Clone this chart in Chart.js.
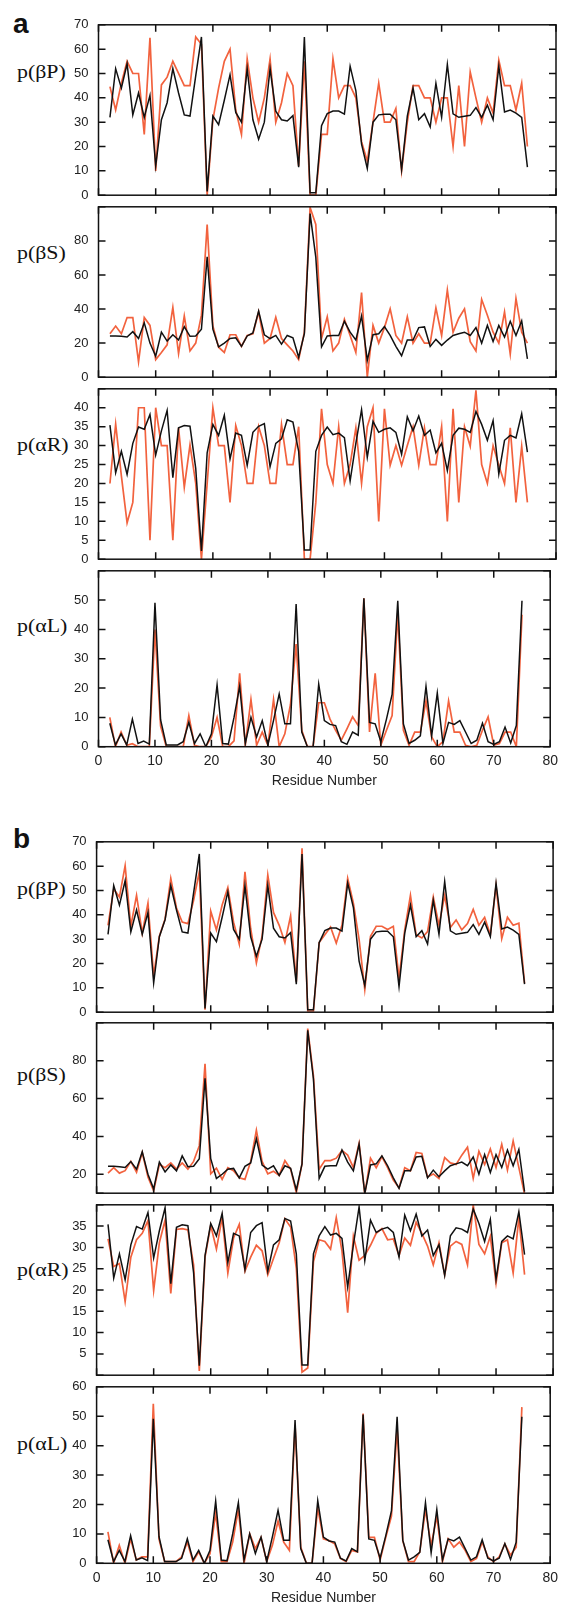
<!DOCTYPE html>
<html>
<head>
<meta charset="utf-8">
<script src="https://cdn.jsdelivr.net/npm/chart.js@4.4.1/dist/chart.umd.min.js"></script>
<style>
  html, body { margin: 0; padding: 0; background: #fff; overflow: hidden; }
  #page { position: relative; width: 564px; height: 1604px; }
  canvas { position: absolute; left: 0; }
  .tag { position: absolute; left: 13px; font: bold 28px "Liberation Sans", Arial, sans-serif; line-height: 28px; color: #111; }
  .ylab { position: absolute; left: 17px; height: 20px; line-height: 20px; font: 19px "Liberation Serif", "Times New Roman", serif;
          transform: scaleX(1.15); transform-origin: left center; white-space: nowrap; color: #111; }
</style>
</head>
<body>
<div id="page">
  <div class="tag" style="top:10px">a</div>
  <div class="tag" style="top:825px">b</div>
</div>
<script>
// residue numbers on the x axis
const residues = [2, 3, 4, 5, 6, 7, 8, 9, 10, 11, 12, 13, 14, 15, 16, 17, 18, 19, 20, 21,
  22, 23, 24, 25, 26, 27, 28, 29, 30, 31, 32, 33, 34, 35, 36, 37, 38, 39, 40, 41,
  42, 43, 44, 45, 46, 47, 48, 49, 50, 51, 52, 53, 54, 55, 56, 57, 58, 59, 60, 61,
  62, 63, 64, 65, 66, 67, 68, 69, 70, 71, 72, 73, 74, 75];
const xTicks = [0, 10, 20, 30, 40, 50, 60, 70, 80];

// black curve (same in a and b)
const blackBetaP = [32, 52, 44, 54, 33, 42, 32, 41, 12, 31,
  38, 52, 42, 33, 32.5, 49, 65, 1.5, 32.5, 29,
  39, 49.5, 34, 30, 52, 31, 23, 30, 52, 34.5,
  31, 30.5, 32.7, 11.5, 65, 1, 1, 28.6, 33.5, 34.6,
  34.6, 33.3, 53, 43, 21, 11, 30, 33, 33.3, 33.3,
  31, 10.5, 32.5, 44, 31, 33.5, 28, 46, 32, 53.7,
  33.4, 32, 32.4, 32.8, 36, 32, 37, 31, 53, 34.2,
  35, 33.7, 32, 11.5];
const blackBetaS = [24.2, 24.2, 24, 23.6, 26.7, 22.7, 31.9, 20, 12.3, 26.4,
  21.2, 24.9, 21.8, 29.7, 24, 24.2, 28.2, 70.7, 28.2, 17.8,
  20, 22.7, 23.1, 18.1, 24.2, 26, 38.8, 24.9, 22.7, 24.5,
  19.4, 24.5, 23.1, 11.7, 25.5, 96, 70.3, 17.8, 24.2, 24.5,
  24.5, 32.8, 26.4, 21.8, 35.9, 9.9, 24.9, 25.5, 29.7, 24.5,
  18.1, 12.6, 21.8, 21.8, 29.1, 29.5, 18.1, 22.2, 18.7, 21.8,
  24.5, 25.5, 26.4, 24.5, 29.1, 20, 30.4, 20.9, 30.4, 23.6,
  32.8, 24.5, 33.1, 10.8];
const blackAlphaR = [35.4, 22.8, 28.5, 22.4, 30.6, 34.9, 34.3, 38.2, 27.5, 33.9,
  39.3, 21.5, 34.7, 35.3, 35.1, 24, 2.2, 28.1, 35.6, 32.7,
  38, 26.5, 33.3, 32.7, 24.8, 33.5, 35.1, 35.8, 24.4, 30.6,
  31.8, 36.8, 36.2, 28.5, 2.4, 2.4, 28.5, 32.7, 34.9, 32.9,
  33.3, 32.1, 20.7, 30.6, 39.5, 26.9, 36.4, 33.5, 34.3, 34.7,
  33.5, 27.7, 37.6, 33.9, 37.8, 32.7, 34.1, 28.1, 30.6, 23.4,
  32.7, 34.6, 34.3, 33.5, 39, 35.6, 31.4, 36.6, 22.5, 31.4,
  32.7, 32, 38.4, 28.3];
const blackAlphaL = [8, 0.6, 4.4, 0.6, 9.4, 1.1, 1.9, 0.9, 49.1, 9.1,
  0.6, 0.6, 0.6, 1.7, 8.3, 1.1, 4.4, 0, 4.4, 21.1,
  1.1, 0.9, 10, 20.6, 1.1, 10, 3.3, 8.9, 0.6, 9,
  18, 7.8, 7.8, 48.7, 5, 0, 0, 21.3, 8.9, 7.6,
  7.2, 1.7, 0.8, 5, 3.9, 50.6, 8.3, 7.8, 1.7, 9.4,
  17.8, 49.8, 7.8, 1.1, 2.2, 3.7, 20.6, 3.6, 18.3, 1.1,
  8.3, 7.6, 8.9, 5, 1.1, 2.2, 8, 1.7, 0.8, 1.7,
  6.7, 1.3, 7.2, 49.8];

// orange curve, panel a
const orangeBetaP_a = [44.6, 35, 46, 55, 50, 50, 25, 64.7, 10, 45.3,
  48.5, 55, 50, 45, 45, 65, 62, 0, 31, 44,
  55, 60, 35, 25, 56, 40, 30, 40, 56, 30,
  38, 50, 45, 12, 55, 0, 0, 25, 25, 56,
  40, 45, 45, 40, 22, 14, 30, 46, 30, 30,
  35.6, 10, 30, 45, 45, 40, 40, 30, 40, 40,
  20, 45, 20, 50.6, 40, 30, 40, 33.7, 55.5, 45,
  45, 35, 46, 20];
const orangeBetaS_a = [25.5, 30, 25.5, 35, 35, 9, 35, 30.4, 10.3, 14.5,
  19, 41, 13.9, 35.9, 15.4, 20, 36.4, 89.6, 30, 17.6,
  14.5, 24.9, 24.9, 18.1, 24.5, 25.5, 38.3, 20, 22.7, 35.2,
  22.7, 19, 15.4, 10.3, 26.4, 99.6, 89.6, 22.7, 35.5, 15.4,
  20, 34, 24.5, 14.5, 49.6, 0, 30.4, 20, 29.1, 40.1,
  24.5, 20, 35.5, 20, 25.5, 20, 20, 40.7, 24.5, 51.1,
  26.4, 34.6, 40.1, 20.9, 15.4, 45.6, 36.4, 26.4, 20, 38.3,
  13.6, 46.2, 26.4, 20];
const orangeAlphaR_a = [20, 35.7, 22, 9.6, 15, 40, 40, 5, 40, 30,
  30, 5, 34.7, 19, 30.2, 20, 0, 20, 40, 30,
  30, 15, 35.3, 30, 20, 20, 35, 30, 20, 20,
  35.6, 25, 25, 35, 0, 0, 15, 39.7, 25, 20,
  35, 20, 25, 34.7, 20, 35, 40, 10, 39.7, 24.8,
  30, 24.8, 30, 35, 24.8, 34.7, 25, 25, 35, 10,
  39.7, 15, 35, 29.8, 44.6, 25, 20, 30, 24.8, 20,
  34.7, 15, 29.8, 15];
const orangeAlphaL_a = [10, 0, 5, 0.5, 1, 0, 0, 0, 40, 7,
  0, 0, 0, 0, 10.6, 0.5, 0, 0, 3.3, 10,
  0, 0, 2, 25, 0.5, 16.1, 0.5, 5, 0.5, 16.1,
  0, 4.4, 14.4, 35, 5.6, 0, 0, 15, 15, 9.4,
  5.6, 2.2, 6.1, 10.2, 7.2, 50.6, 5, 25, 0.5, 5.6,
  10.6, 45.6, 5.6, 0.5, 5, 5, 15.6, 3.3, 0, 1.7,
  15.6, 5, 5, 0.5, 0, 0.5, 5.6, 10.2, 0.5, 1.1,
  5, 5, 0, 45];

// orange curve, panel b
const orangeBetaP_b = [35.7, 50.6, 47.3, 60.2, 35.3, 48, 32.5, 44.8, 15, 31.2,
  38.3, 55, 42.8, 37, 36.4, 46, 57.7, 1, 41.5, 33.8,
  44, 51.2, 37, 28, 57.7, 34.4, 20.2, 31.2, 56.4, 41,
  35.7, 28.6, 39.6, 12.5, 67.3, 0.5, 0.5, 28.6, 31.8, 35,
  28.4, 35.7, 55, 44.8, 29.9, 9.3, 31.2, 35.3, 35.3, 34,
  35.3, 13.8, 33.8, 48, 31.8, 30.5, 33.1, 47.3, 35.7, 48,
  34.8, 37.9, 33.8, 36.4, 42.2, 35.7, 39, 31.8, 51.9, 30.2,
  39, 35.7, 36.6, 11.9];
const orangeBetaS_b = [20.6, 23.5, 20.6, 21.9, 26.8, 21.1, 31.5, 18.6, 11.2, 25.2,
  23.5, 26, 22.7, 26, 22.7, 26.8, 35.1, 78.4, 20.2, 23.2,
  17.3, 23.5, 21.9, 18.1, 17.3, 26.8, 43.3, 26.8, 20.2, 21.6,
  19.4, 27.2, 22.7, 10.3, 25.5, 97, 72, 22.7, 27.2, 27.2,
  28.5, 32.6, 30.1, 23.5, 36.4, 9.5, 28.5, 23.5, 29.3, 23.5,
  16.9, 12.8, 23.5, 21.9, 31.5, 31, 18.6, 20.2, 17.8, 28.8,
  26, 25.2, 30.1, 34.3, 17.8, 32.1, 25.2, 33.4, 23.5, 35.9,
  22.2, 37.6, 23.5, 9.5];
const orangeAlphaR_b = [32, 25.5, 26.2, 17.3, 27.7, 31.8, 33.3, 36.3, 19.9, 31.1,
  36.4, 19.2, 34.2, 34.4, 34.1, 25.9, 1, 27.7, 35.2, 29.6,
  37, 24, 32.2, 35.4, 24.4, 27.7, 30.5, 29.2, 23.6, 27.4,
  31.1, 36.7, 34.8, 25.1, 0.7, 1.7, 26.6, 31.8, 31.4, 29.6,
  37, 29.2, 14.7, 32.6, 27, 28.1, 30.5, 33.3, 34.4, 31.8,
  32, 28.1, 32.2, 30.5, 35.9, 33.3, 30.3, 25.9, 31.1, 23.6,
  30.3, 31.4, 30.7, 25.9, 40, 30.7, 28.5, 32.6, 21.6, 31.1,
  31.8, 24, 37, 23.6];
const orangeAlphaL_b = [10.7, 0, 6.1, 0, 8.3, 1.1, 2.2, 2.2, 54.2, 8.3,
  0.6, 0.6, 0.6, 2.2, 7.2, 0.6, 3.9, 0, 3.3, 17.1,
  0.6, 0.6, 7.2, 18.3, 0, 10, 5, 8.8, 0.6, 6.1,
  14.4, 7.2, 4.4, 47, 5.5, 0, 0, 18.8, 8.3, 7.7,
  6.6, 1.7, 0.6, 4.4, 3.9, 50.9, 8.8, 8.8, 1.1, 8.8,
  16, 45.9, 7.7, 0.6, 0.6, 3.9, 18.3, 6.1, 16, 0.6,
  8.3, 5.5, 7.2, 4.4, 0.6, 1.7, 7.2, 2.2, 0.6, 2.2,
  6.6, 2.8, 5.5, 53.1];

Chart.defaults.font.family = '"Liberation Sans", Arial, sans-serif';
Chart.defaults.color = '#222';

const panels = [
  { label: 'p(βP)', labelY: 71,   top: 19,     bottom: 201,    left: 98.5, right: 556,   min: 0,  max: 70,  step: 10, hide: [],       black: blackBetaP,  orange: orangeBetaP_a },
  { label: 'p(βS)', labelY: 252,  top: 201,    bottom: 383,    left: 98.5, right: 556,   min: 0,  max: 100, step: 20, hide: [100],    black: blackBetaS,  orange: orangeBetaS_a },
  { label: 'p(αR)', labelY: 444,  top: 383,    bottom: 565,    left: 98.5, right: 556,   min: 0,  max: 45,  step: 5,  hide: [45],     black: blackAlphaR, orange: orangeAlphaR_a },
  { label: 'p(αL)', labelY: 625,  top: 565,    bottom: 746.7,  left: 98.5, right: 556,   min: 0,  max: 60,  step: 10, hide: [60],     black: blackAlphaL, orange: orangeAlphaL_a, last: true },
  { label: 'p(βP)', labelY: 888,  top: 836.5,  bottom: 1017.3, left: 96.6, right: 553.1, min: 0,  max: 70,  step: 10, hide: [],       black: blackBetaP,  orange: orangeBetaP_b },
  { label: 'p(βS)', labelY: 1074, top: 1017.3, bottom: 1199,   left: 96.6, right: 553.1, min: 10, max: 100, step: 20, hide: [10, 100], black: blackBetaS,  orange: orangeBetaS_b },
  { label: 'p(αR)', labelY: 1269, top: 1199,   bottom: 1381,   left: 96.6, right: 553.1, min: 0,  max: 40,  step: 5,  hide: [0, 40],  black: blackAlphaR, orange: orangeAlphaR_b },
  { label: 'p(αL)', labelY: 1443, top: 1381,   bottom: 1563.3, left: 96.6, right: 553.1, min: 0,  max: 60,  step: 10, hide: [],       black: blackAlphaL, orange: orangeAlphaL_b, last: true }
];

// frame with inward ticks on all four sides
const framePlugin = {
  id: 'frame',
  afterDatasetsDraw(chart) {
    const { ctx, chartArea: a, scales: { x, y } } = chart;
    ctx.save();
    ctx.strokeStyle = '#111';
    ctx.lineWidth = 1.5;
    ctx.strokeRect(a.left, a.top, a.right - a.left, a.bottom - a.top);
    ctx.beginPath();
    y.ticks.forEach(t => {
      const py = y.getPixelForValue(t.value);
      ctx.moveTo(a.left, py); ctx.lineTo(a.left + 7, py);
      ctx.moveTo(a.right, py); ctx.lineTo(a.right - 7, py);
    });
    xTicks.forEach(v => {
      const px = x.getPixelForValue(v);
      ctx.moveTo(px, a.bottom); ctx.lineTo(px, a.bottom - 7);
      ctx.moveTo(px, a.top); ctx.lineTo(px, a.top + 7);
    });
    ctx.stroke();
    ctx.restore();
  }
};

const page = document.getElementById('page');

panels.forEach(p => {
  const lab = document.createElement('div');
  lab.className = 'ylab';
  lab.style.top = (p.labelY - 10) + 'px';
  lab.textContent = p.label;
  page.appendChild(lab);

  const canvasTop = Math.floor(p.top) - 12;
  const below = p.last ? 50 : 12;
  const h = Math.ceil(p.bottom) + below - canvasTop;
  const canvas = document.createElement('canvas');
  canvas.width = 564;
  canvas.height = h;
  canvas.style.top = canvasTop + 'px';
  page.appendChild(canvas);

  const padTop = p.top - canvasTop;
  const axisH = h - (p.bottom - canvasTop);

  new Chart(canvas, {
    type: 'line',
    data: {
      datasets: [
        {
          data: residues.map((r, i) => ({ x: r, y: p.black[i] })),
          borderColor: '#111',
          borderWidth: 1.5,
          pointRadius: 0,
          tension: 0,
          fill: false
        },
        {
          data: residues.map((r, i) => ({ x: r, y: p.orange[i] })),
          borderColor: '#f2623e',
          borderWidth: 1.7,
          pointRadius: 0,
          tension: 0,
          fill: false
        }
      ]
    },
    options: {
      responsive: false,
      animation: false,
      events: [],
      layout: { padding: { top: padTop, bottom: p.last ? 0 : axisH, left: 0, right: 564 - p.right } },
      plugins: { legend: { display: false }, tooltip: { enabled: false } },
      scales: {
        x: {
          type: 'linear',
          min: 0,
          max: 80,
          display: !!p.last,
          grid: { display: false, drawTicks: false },
          border: { display: false },
          ticks: { stepSize: 10, padding: 6, autoSkip: false, maxRotation: 0, font: { size: 14 } },
          title: { display: !!p.last, text: 'Residue Number', font: { size: 14 }, padding: { top: 0, bottom: 7 } },
          afterFit: s => { if (p.last) s.height = axisH; }
        },
        y: {
          min: p.min,
          max: p.max,
          grid: { display: false, drawTicks: false },
          border: { display: false },
          ticks: {
            stepSize: p.step,
            padding: 10,
            autoSkip: false,
            font: { size: 13 },
            callback: v => p.hide.includes(v) ? '' : v
          },
          afterFit: s => { s.width = p.left; }
        }
      }
    },
    plugins: [framePlugin]
  });
});
</script>
</body>
</html>
